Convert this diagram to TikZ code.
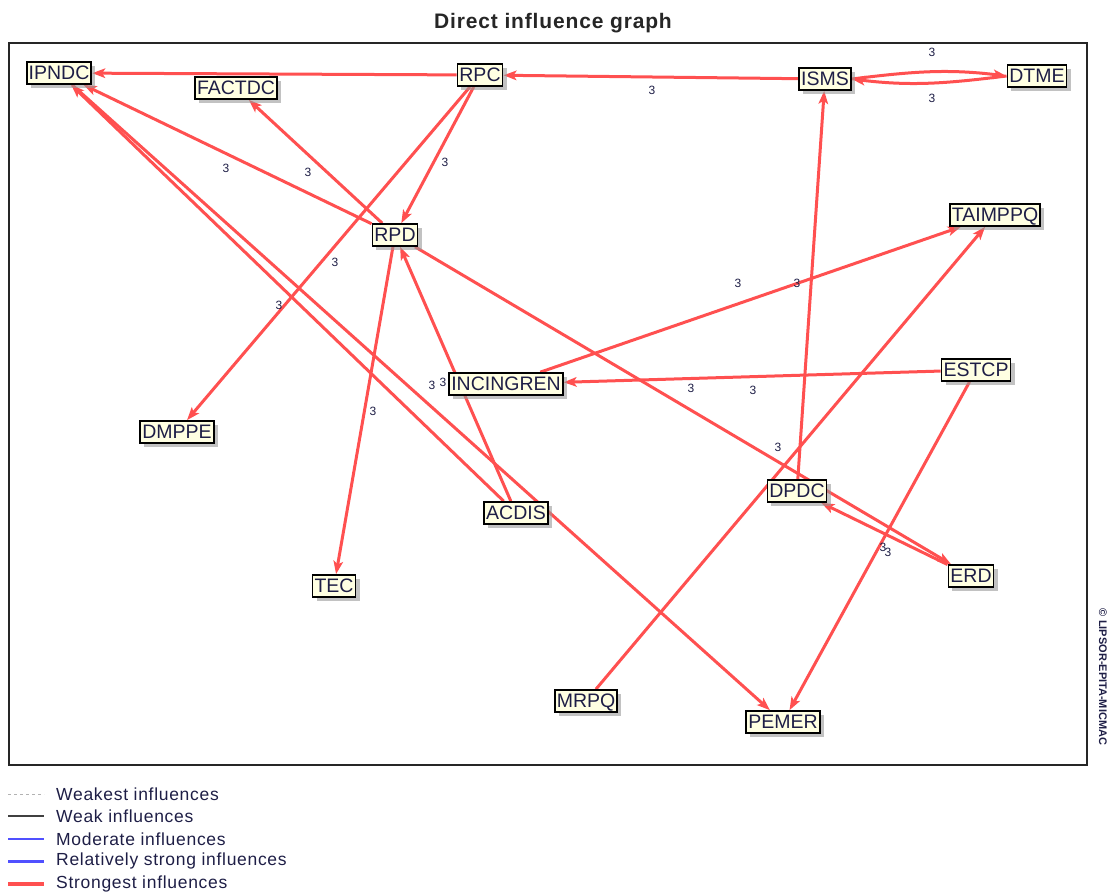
\documentclass[tikz,border=0pt]{standalone}
\usepackage{fontspec}
\setmainfont{Liberation Sans}
\newfontfamily\spacedfont[LetterSpace=4]{Liberation Sans}
\usetikzlibrary{arrows.meta,shadows}
\pgfdeclarelayer{background}
\pgfsetlayers{background,main}
\definecolor{cream}{RGB}{255,255,226}
\definecolor{inktext}{RGB}{30,30,70}
\definecolor{infred}{RGB}{255,80,80}
\definecolor{infblue}{RGB}{80,80,255}
\begin{document}
\begin{tikzpicture}[x=1pt,y=-1pt,
  var/.style={draw=black, line width=1.7pt, fill=cream, text=inktext,
    font=\fontsize{19.5}{19.5}\selectfont, inner xsep=2pt, inner ysep=0pt,
    minimum height=22pt, text height=13.8pt, text depth=0pt,
    drop shadow={shadow xshift=4pt, shadow yshift=-4pt, fill=black!40, opacity=0.6}},
  infl/.style={draw=infred, line width=3pt, -{Stealth[length=13pt,width=9.5pt,inset=3pt]}},
  lab/.style={font=\fontsize{12}{12}\selectfont, text=inktext, inner sep=0pt},
  legtext/.style={anchor=west, font=\spacedfont\fontsize{17.5}{17.5}\selectfont, text=inktext, inner sep=0pt},
  weakest/.style={draw=black!30, line width=1pt, dash pattern=on 3pt off 3pt},
  weak/.style={draw=black!75, line width=1.2pt},
  moderate/.style={draw=infblue, line width=1.2pt},
  relstrong/.style={draw=infblue, line width=3pt},
  strongest/.style={draw=infred, line width=3.4pt}]
\useasboundingbox (0,0) rectangle (1111,894);

% title and frame
\node[font=\spacedfont\bfseries\fontsize{21}{21}\selectfont, text=black!85] (title) at (553,23) {Direct influence graph};
\draw[line width=1.2pt, black!85] (9,43) rectangle (1087,765);
\node[rotate=-90, font=\bfseries\fontsize{11}{11}\selectfont, text=inktext, inner sep=0pt] (copyr) at (1103,677) {\textcopyright\ LIPSOR-EPITA-MICMAC};

% variables
\node[var] (IPNDC) at (59,73) {IPNDC};
\node[var] (FACTDC) at (236,88) {FACTDC};
\node[var] (RPC) at (480,75) {RPC};
\node[var] (ISMS) at (825,79) {ISMS};
\node[var] (DTME) at (1037,76) {DTME};
\node[var] (TAIMPPQ) at (995,215) {TAIMPPQ};
\node[var] (RPD) at (395,235) {RPD};
\node[var] (INCINGREN) at (506,384) {INCINGREN};
\node[var] (ESTCP) at (976,370) {ESTCP};
\node[var] (DMPPE) at (177,432) {DMPPE};
\node[var] (DPDC) at (797,491) {DPDC};
\node[var] (ACDIS) at (516,513) {ACDIS};
\node[var] (TEC) at (334,586) {TEC};
\node[var] (ERD) at (971,576) {ERD};
\node[var] (MRPQ) at (586,701) {MRPQ};
\node[var] (PEMER) at (783,722) {PEMER};

% influences
\begin{pgfonlayer}{background}
\draw[infl] (RPC) -- (IPNDC);
\draw[infl] (ISMS) -- (RPC);
\draw[infl] (ISMS.east) to[out=7,in=173] (DTME.west);
\draw[infl] (DTME.west) to[out=-173,in=-7] (ISMS.east);
\draw[infl] (RPD) -- (IPNDC);
\draw[infl] (RPD) -- (FACTDC);
\draw[infl] (RPC) -- (RPD);
\draw[infl] (RPC) -- (DMPPE);
\draw[infl] (ACDIS) -- (IPNDC);
\draw[infl] (IPNDC) -- (PEMER);
\draw[infl] (RPD) -- (TEC);
\draw[infl] (ACDIS) -- (RPD);
\draw[infl] (INCINGREN) -- (TAIMPPQ);
\draw[infl] (MRPQ) -- (TAIMPPQ);
\draw[infl] (ESTCP) -- (INCINGREN);
\draw[infl] (RPD) -- (ERD);
\draw[infl] (ERD) -- (DPDC);
\draw[infl] (DPDC) -- (ISMS);
\draw[infl] (ESTCP) -- (PEMER);
\end{pgfonlayer}

% influence values
\foreach \p [count=\i] in {(932,52),(932,98),(652,90),(226,168),(308,172),(445,162),
  (335,262),(279,305),(738,283),(797,283),(432,385),(443,382),(691,388),(753,390),
  (373,411),(778,447),(883,547),(888,552)}
  \node[lab] (val\i) at \p {3};

% legend
\coordinate (legA1) at (8,794);  \coordinate (legB1) at (44,794);
\coordinate (legA2) at (8,816);  \coordinate (legB2) at (44,816);
\coordinate (legA3) at (8,839);  \coordinate (legB3) at (44,839);
\coordinate (legA4) at (8,861);  \coordinate (legB4) at (44,861);
\coordinate (legA5) at (8,884);  \coordinate (legB5) at (44,884);
\draw[weakest] (legA1) -- (legB1);
\draw[weak] (legA2) -- (legB2);
\draw[moderate] (legA3) -- (legB3);
\draw[relstrong] (legA4) -- (legB4);
\draw[strongest] (legA5) -- (legB5);
\node[legtext] (leg1) at (56,794) {Weakest influences};
\node[legtext] (leg2) at (56,816) {Weak influences};
\node[legtext] (leg3) at (56,839) {Moderate influences};
\node[legtext] (leg4) at (56,861) {Relatively strong influences};
\node[legtext] (leg5) at (56,884) {Strongest influences};
\end{tikzpicture}
\end{document}
